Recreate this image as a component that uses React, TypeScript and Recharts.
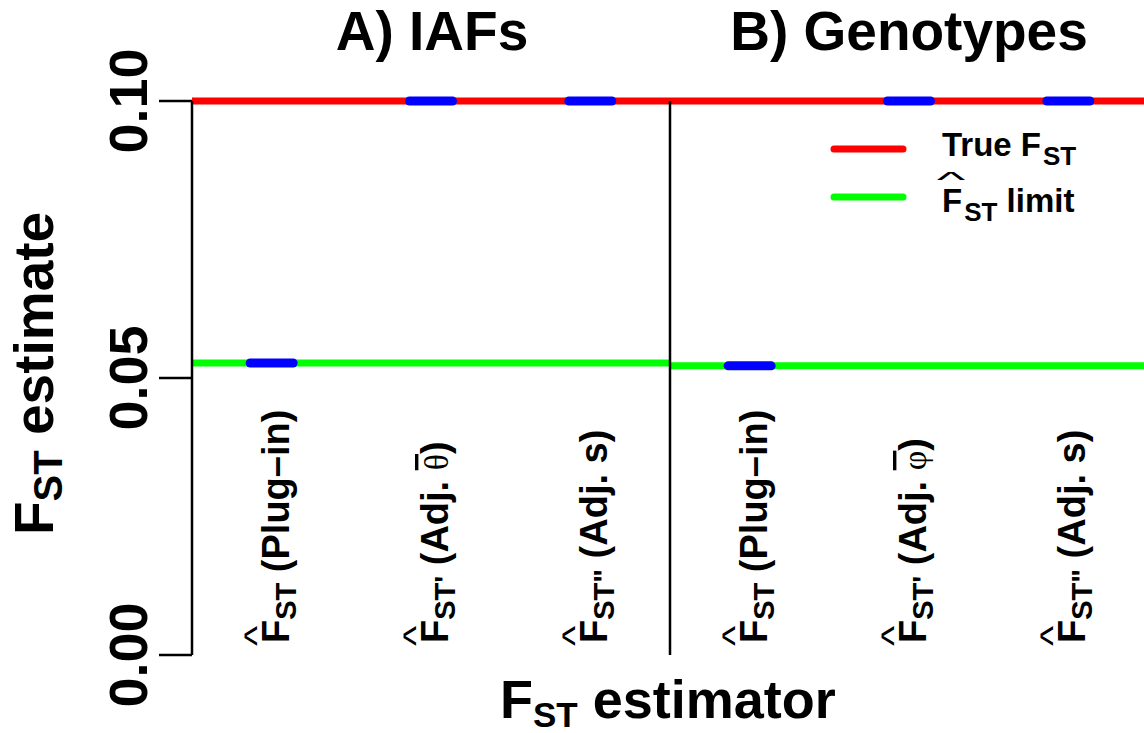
import {
  ComposedChart,
  Line,
  Scatter,
  XAxis,
  YAxis,
  ReferenceLine
} from 'recharts';

const panelTitles = ['A) IAFs', 'B) Genotypes'];
const panelEdges = [0, 3, 6];
const estimatorPos = [0.5, 1.5, 2.5, 3.5, 4.5, 5.5];
const estimatorPrimes = ['', "'", '"', '', "'", '"'];
const estimatorNotes = ['Plug\u2013in', 'Adj.', 'Adj. s', 'Plug\u2013in', 'Adj.', 'Adj. s'];
const estimatorSymbols = ['', '\u03B8', '', '', '\u03C6', ''];
const estimates = [0.0527, 0.1, 0.1, 0.0522, 0.1, 0.1];
const trueFst = 0.1;
const limitFst = [0.0527, 0.0522];
const yTicks = [0, 0.05, 0.1];
const legendNames = ['True', 'limit'];
const legendColors = ['#ff0000', '#00ff00'];

const FONT = "'Liberation Sans', Arial, Helvetica, sans-serif";

const trueLine = [
  { x: panelEdges[0], y: trueFst },
  { x: panelEdges[panelEdges.length - 1], y: trueFst }
];
const limitLines = limitFst.map((v, i) => [
  { x: panelEdges[i], y: v },
  { x: panelEdges[i + 1], y: v }
]);
const estimateData = estimatorPos.map((x, i) => ({ x, y: estimates[i] }));

function XTick(props: any) {
  const { x, y, payload } = props;
  const i = estimatorPos.indexOf(payload.value);
  if (i < 0) return null;
  const bx = x + 17;
  const by = y - 12;
  const sym = estimatorSymbols[i];
  return (
    <g transform={`translate(${bx},${by}) rotate(-90)`} fontFamily={FONT}>
      {/* hat over the F */}
      <text transform="translate(7,-20) scale(1.35,1.1)" fontSize={32} textAnchor="middle">^</text>
      <text x={0} y={0} fontSize={38} fontWeight="bold" fill="#000">
        <tspan>F</tspan>
        <tspan fontSize={29} dy={7}>{'ST' + estimatorPrimes[i]}</tspan>
        <tspan dy={-7}>{' (' + estimatorNotes[i] + (sym ? ' ' : '')}</tspan>
        {sym ? (
          <tspan fontFamily="'Liberation Serif', serif" fontWeight="normal" fontSize={34}
            style={{ textDecoration: 'overline' }}>{sym}</tspan>
        ) : null}
        <tspan>)</tspan>
      </text>
    </g>
  );
}

function YTick(props: any) {
  const { x, y, payload } = props;
  return (
    <text transform={`translate(${x},${y}) rotate(-90)`} textAnchor="middle"
      fontFamily={FONT} fontWeight="bold" fontSize={54} fill="#000">
      {Number(payload.value).toFixed(2)}
    </text>
  );
}

function EstimateMark(props: any) {
  const { cx, cy } = props;
  return <rect x={cx - 26} y={cy - 4.5} width={52} height={9} rx={4.5} fill="#0000ff" />;
}

export default function App() {
  return (
    <div style={{ position: 'absolute', left: 0, top: 0, width: 1144, height: 733, overflow: 'hidden', background: '#fff' }}>
      <ComposedChart width={1148} height={733} margin={{ top: 101, right: 0, bottom: 0, left: 0 }}>
        <XAxis
          type="number"
          dataKey="x"
          domain={[0, 6]}
          ticks={estimatorPos}
          axisLine={false}
          tickLine={false}
          tickSize={0}
          tickMargin={0}
          height={78}
          interval={0}
          tick={<XTick />}
        />
        <YAxis
          type="number"
          dataKey="y"
          domain={[0, 0.1]}
          ticks={yTicks}
          width={192}
          axisLine={{ stroke: '#000', strokeWidth: 2.5 }}
          tickLine={{ stroke: '#000', strokeWidth: 2.5 }}
          tickSize={33}
          tickMargin={12}
          interval={0}
          tick={<YTick />}
        />
        <Line data={trueLine} dataKey="y" stroke={legendColors[0]} strokeWidth={7} dot={false} isAnimationActive={false} />
        {limitLines.map((d, i) => (
          <Line key={i} data={d} dataKey="y" stroke={legendColors[1]} strokeWidth={7} dot={false} isAnimationActive={false} />
        ))}
        <ReferenceLine x={panelEdges[1]} stroke="#000" strokeWidth={2.5} />
        <Scatter data={estimateData} dataKey="y" shape={<EstimateMark />} isAnimationActive={false} />
      </ComposedChart>

      <svg width={1144} height={733} style={{ position: 'absolute', left: 0, top: 0, pointerEvents: 'none' }}
        fontFamily={FONT} fontWeight="bold">
        <text x={432} y={50} fontSize={55} textAnchor="middle">{panelTitles[0]}</text>
        <text x={909} y={50} fontSize={55} textAnchor="middle">{panelTitles[1]}</text>

        <text transform="translate(53,535) rotate(-90)" fontSize={55}>
          <tspan>F</tspan>
          <tspan fontSize={40} dy={9}>ST</tspan>
          <tspan dy={-9}> estimate</tspan>
        </text>

        <text x={500} y={718} fontSize={54}>
          <tspan>F</tspan>
          <tspan fontSize={35} dy={9}>ST</tspan>
          <tspan dy={-9}> estimator</tspan>
        </text>

        <line x1={834} y1={149} x2={903} y2={149} stroke={legendColors[0]} strokeWidth={7} strokeLinecap="round" />
        <line x1={834} y1={197} x2={903} y2={197} stroke={legendColors[1]} strokeWidth={7} strokeLinecap="round" />
        <text x={942} y={156} fontSize={33}>
          <tspan>{legendNames[0] + ' F'}</tspan>
          <tspan fontSize={26} dy={9} dx={2}>ST</tspan>
        </text>
        <text transform="translate(951,187) scale(1.9,0.7)" fontSize={32} fontWeight="normal" textAnchor="middle">^</text>
        <text x={942} y={212} fontSize={33}>
          <tspan>F</tspan>
          <tspan fontSize={26} dy={9} dx={2}>ST</tspan>
          <tspan dy={-9}>{' ' + legendNames[1]}</tspan>
        </text>
      </svg>
    </div>
  );
}
